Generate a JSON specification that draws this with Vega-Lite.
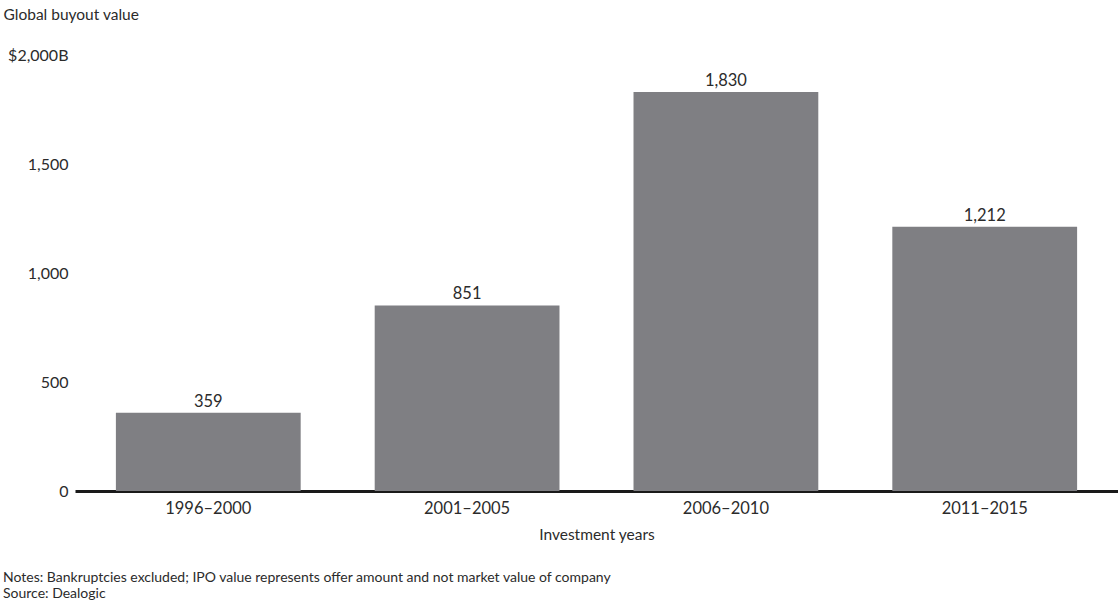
{
  "$schema": "https://vega.github.io/schema/vega-lite/v6.json",
  "width": 1043,
  "height": 436,
  "autosize": "none",
  "padding": {"left": 75, "top": 55, "right": 0, "bottom": 112},
  "background": "white",
  "config": {
    "view": {"stroke": null},
    "font": "Lato",
    "text": {"font": "Lato", "color": "#2b2b2b"}
  },
  "title": {
    "text": ["Notes: Bankruptcies excluded; IPO value represents offer amount and not market value of company", "Source: Dealogic"],
    "orient": "bottom",
    "anchor": "start",
    "frame": "group",
    "dx": -72,
    "offset": 28,
    "fontSize": 14,
    "fontWeight": "normal",
    "color": "#2b2b2b",
    "font": "Lato",
    "lineHeight": 16
  },
  "data": {
    "values": [
      {"period": "1996–2000", "value": 359},
      {"period": "2001–2005", "value": 851},
      {"period": "2006–2010", "value": 1830},
      {"period": "2011–2015", "value": 1212}
    ]
  },
  "encoding": {
    "x": {
      "field": "period",
      "type": "nominal",
      "sort": null,
      "scale": {"paddingInner": 0.286, "paddingOuter": 0.158},
      "axis": {
        "title": "Investment years",
        "labelAngle": 0,
        "ticks": false,
        "domainColor": "#1a1a1a",
        "domainWidth": 3,
        "labelFontSize": 16.5,
        "labelColor": "#2b2b2b",
        "labelPadding": 9,
        "titleFontSize": 15.5,
        "titleFontWeight": "normal",
        "titleColor": "#2b2b2b",
        "titlePadding": 11,
        "labelFont": "Lato",
        "titleFont": "Lato"
      }
    },
    "y": {
      "field": "value",
      "type": "quantitative",
      "scale": {"domain": [0, 2000]},
      "axis": {
        "values": [0, 500, 1000, 1500, 2000],
        "labelExpr": "datum.value == 2000 ? '$2,000B' : format(datum.value, ',')",
        "grid": false,
        "ticks": false,
        "domain": false,
        "labelFontSize": 16,
        "labelColor": "#2b2b2b",
        "labelPadding": 7,
        "labelFont": "Lato",
        "title": "Global buyout value",
        "titleAngle": 0,
        "titleAlign": "left",
        "titleBaseline": "middle",
        "titleX": -72,
        "titleY": -41,
        "titleFontSize": 15.5,
        "titleFontWeight": "normal",
        "titleColor": "#2b2b2b",
        "titleFont": "Lato"
      }
    }
  },
  "layer": [
    {"mark": {"type": "bar", "color": "#7f7f83"}},
    {
      "mark": {"type": "text", "baseline": "bottom", "dy": -3, "fontSize": 16.5, "color": "#2b2b2b"},
      "encoding": {"text": {"field": "value", "type": "quantitative", "format": ","}}
    }
  ]
}
